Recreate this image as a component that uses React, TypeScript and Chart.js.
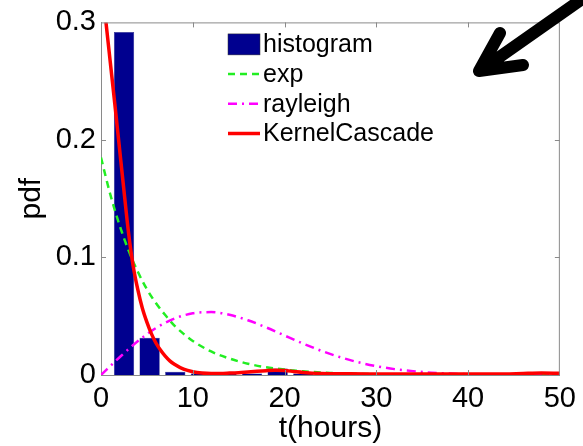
import React, { useEffect, useRef } from 'react';
import { Chart, registerables } from 'chart.js';
Chart.register(...registerables);

// Histogram bins (t in hours) and density values
const histCenters = [2.51, 5.3, 8.09, 10.88, 13.67, 16.46, 19.25, 22.04, 24.83, 27.62, 30.41, 33.2, 35.99, 38.78, 41.57, 44.36, 47.15];
const histValues = [0.2918, 0.0316, 0.0028, 0.0012, 0.0015, 0.0012, 0.0055, 0.0012, 0.0006, 0.0008, 0.0004, 0.0003, 0.0003, 0.0002, 0.0003, 0.0004, 0.0015];

// exp fit
const expT = [0, 1, 2, 3, 4, 5, 6, 7, 8, 9, 10, 12, 14, 16, 18, 20, 22, 25, 28, 32, 36, 40, 45, 50];
const expV = [0.185, 0.154, 0.128, 0.106, 0.088, 0.073, 0.061, 0.051, 0.042, 0.035, 0.029, 0.02, 0.014, 0.0096, 0.0066, 0.0046, 0.0032, 0.0018, 0.001, 0.0005, 0.0002, 0.0001, 0.0, 0.0];

// rayleigh fit
const rayT = [0, 2, 4, 6, 8, 10, 12, 14, 16, 18, 20, 22, 24, 26, 28, 30, 32, 34, 36, 38, 40, 45, 50];
const rayV = [0, 0.0149, 0.0287, 0.04, 0.048, 0.0525, 0.0535, 0.0512, 0.0466, 0.0405, 0.0336, 0.0268, 0.0206, 0.0153, 0.0109, 0.0075, 0.005, 0.0033, 0.002, 0.0012, 0.0007, 0.0002, 0.0];

// KernelCascade
const kcT = [0, 0.5, 1, 1.5, 2, 2.5, 3, 3.5, 4, 4.5, 5, 5.5, 6, 6.5, 7, 7.5, 8, 9, 10, 11, 12, 13, 14, 15, 16, 17, 18, 19, 20, 21, 22, 24, 27, 30, 35, 40, 44, 46, 48, 50];
const kcV = [0.34, 0.303, 0.267, 0.231, 0.194, 0.157, 0.121, 0.093, 0.073, 0.057, 0.045, 0.035, 0.027, 0.021, 0.016, 0.012, 0.0092, 0.005, 0.0028, 0.0017, 0.0013, 0.0013, 0.0016, 0.002, 0.0026, 0.0032, 0.0037, 0.004, 0.0038, 0.003, 0.0022, 0.0013, 0.001, 0.0009, 0.0008, 0.0008, 0.0009, 0.0013, 0.0016, 0.0015];

const xTickLabels = ['0', '10', '20', '30', '40', '50'];
const yTickLabels = ['0', '0.1', '0.2', '0.3'];

const FONT = "'Liberation Sans', Arial, Helvetica, sans-serif";
const BOX = '#8a8a8a';

const framePlugin = {
  id: 'frame',
  afterDatasetsDraw(chart: any) {
    const { ctx, chartArea: a, scales } = chart;
    ctx.save();
    ctx.strokeStyle = BOX;
    ctx.lineWidth = 1;
    ctx.beginPath();
    ctx.moveTo(a.left, a.top + 0.5);
    ctx.lineTo(a.right, a.top + 0.5);
    ctx.moveTo(a.right - 0.5, a.top);
    ctx.lineTo(a.right - 0.5, a.bottom);
    const tl = 5;
    scales.x.ticks.forEach((t: any) => {
      const px = Math.round(scales.x.getPixelForValue(t.value)) + 0.5;
      if (t.value <= 0 || t.value >= 50) return;
      ctx.moveTo(px, a.top);
      ctx.lineTo(px, a.top + tl);
      ctx.moveTo(px, a.bottom);
      ctx.lineTo(px, a.bottom - tl);
    });
    scales.y.ticks.forEach((t: any) => {
      const py = Math.round(scales.y.getPixelForValue(t.value)) + 0.5;
      if (t.value <= 0 || t.value >= 0.3) return;
      ctx.moveTo(a.left, py);
      ctx.lineTo(a.left + tl, py);
      ctx.moveTo(a.right, py);
      ctx.lineTo(a.right - tl, py);
    });
    ctx.stroke();
    ctx.restore();
  },
};

const legendPlugin = {
  id: 'innerLegend',
  afterDraw(chart: any) {
    const { ctx, chartArea: a } = chart;
    const ds = chart.data.datasets;
    const x0 = a.left + 127;
    const y0 = a.top + 22;
    const rowH = 29.7;
    ctx.save();
    ctx.font = `25px ${FONT}`;
    ctx.textBaseline = 'middle';
    ctx.textAlign = 'left';
    ds.forEach((d: any, i: number) => {
      const cy = y0 + i * rowH;
      if (d.type === 'bar') {
        ctx.fillStyle = d.backgroundColor;
        ctx.fillRect(x0, cy - 10.5, 32, 21);
        ctx.strokeStyle = '#333';
        ctx.lineWidth = 0.5;
        ctx.strokeRect(x0, cy - 10.5, 32, 21);
      } else {
        ctx.strokeStyle = d.borderColor;
        ctx.lineWidth = d.borderWidth;
        ctx.setLineDash(d.borderDash || []);
        ctx.beginPath();
        ctx.moveTo(x0, cy);
        ctx.lineTo(x0 + 32, cy);
        ctx.stroke();
        ctx.setLineDash([]);
      }
      ctx.fillStyle = '#000';
      ctx.fillText(d.label, x0 + 35, cy + 1);
    });
    ctx.restore();
  },
};

const arrowPlugin = {
  id: 'arrow',
  afterDraw(chart: any) {
    const ctx = chart.ctx;
    ctx.save();
    ctx.strokeStyle = '#000';
    ctx.lineWidth = 12;
    ctx.lineCap = 'round';
    ctx.lineJoin = 'round';
    ctx.beginPath();
    ctx.moveTo(592, -8);
    ctx.lineTo(481, 70);
    ctx.moveTo(500, 33);
    ctx.lineTo(479, 71);
    ctx.lineTo(523, 65);
    ctx.stroke();
    ctx.restore();
  },
};

export default function App() {
  const ref = useRef<HTMLCanvasElement>(null);
  useEffect(() => {
    if (!ref.current) return;
    const tickFont = { family: FONT, size: 29 };
    const chart = new Chart(ref.current, {
      type: 'line',
      data: {
        datasets: [
          {
            type: 'bar',
            label: 'histogram',
            data: histCenters.map((c, i) => ({ x: c, y: histValues[i] })),
            backgroundColor: '#00008f',
            borderColor: '#20207a',
            borderWidth: 0.5,
            barPercentage: 0.88,
            categoryPercentage: 0.9,
            order: 4,
          } as any,
          {
            type: 'line',
            label: 'exp',
            data: expT.map((t, i) => ({ x: t, y: expV[i] })),
            borderColor: '#22ee22',
            borderWidth: 2.5,
            borderDash: [7, 5],
            pointRadius: 0,
            cubicInterpolationMode: 'monotone',
            order: 3,
          },
          {
            type: 'line',
            label: 'rayleigh',
            data: rayT.map((t, i) => ({ x: t, y: rayV[i] })),
            borderColor: '#ff00ff',
            borderWidth: 2.5,
            borderDash: [9, 5, 2, 5],
            pointRadius: 0,
            cubicInterpolationMode: 'monotone',
            order: 2,
          },
          {
            type: 'line',
            label: 'KernelCascade',
            data: kcT.map((t, i) => ({ x: t, y: kcV[i] })),
            borderColor: '#ff0000',
            borderWidth: 3.5,
            pointRadius: 0,
            cubicInterpolationMode: 'monotone',
            order: 1,
          },
        ],
      },
      options: {
        responsive: false,
        animation: false,
        devicePixelRatio: 1,
        layout: { padding: { top: 21, right: 20, left: 0, bottom: 0 } },
        plugins: { legend: { display: false }, tooltip: { enabled: false } },
        scales: {
          x: {
            type: 'linear',
            min: 0,
            max: 50,
            offset: false,
            grid: { display: false, drawTicks: false },
            border: { display: true, color: BOX, width: 1 },
            ticks: {
              stepSize: 10,
              maxRotation: 0,
              autoSkip: false,
              padding: 7,
              color: '#000',
              font: tickFont,
              callback: (_v: any, i: number) => xTickLabels[i],
            },
            title: {
              display: true,
              text: 't(hours)',
              color: '#000',
              font: { family: FONT, size: 30, lineHeight: 1.0 },
              padding: { top: 0, bottom: 2 },
            },
            afterFit: (s: any) => {
              s.height = 71;
            },
          },
          y: {
            type: 'linear',
            min: 0,
            max: 0.3,
            grid: { display: false, drawTicks: false },
            border: { display: true, color: BOX, width: 1 },
            ticks: {
              stepSize: 0.1,
              padding: 5,
              color: '#000',
              font: tickFont,
              callback: (_v: any, i: number) => yTickLabels[i],
            },
            title: {
              display: true,
              text: 'pdf',
              color: '#000',
              font: { family: FONT, size: 30, lineHeight: 1.2 },
              padding: { top: 14, bottom: 0 },
            },
            afterFit: (s: any) => {
              s.width = 101;
            },
          },
        },
      } as any,
      plugins: [framePlugin, legendPlugin, arrowPlugin],
    });
    return () => chart.destroy();
  }, []);
  return (
    <div style={{ position: 'fixed', left: 0, top: 0, width: 583, height: 446, background: '#fff' }}>
      <canvas ref={ref} width={583} height={446} style={{ width: 583, height: 446, display: 'block' }} />
    </div>
  );
}
